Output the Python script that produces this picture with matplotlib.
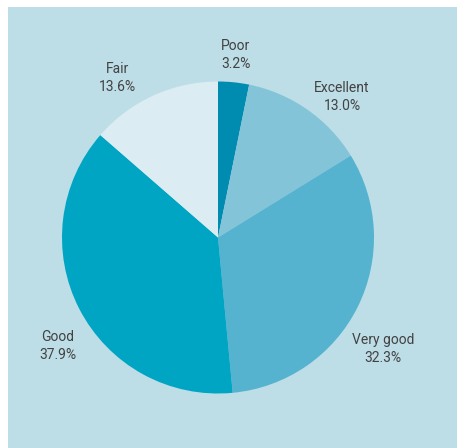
import matplotlib
matplotlib.use('Agg')
import matplotlib.pyplot as plt
from matplotlib.patches import Rectangle

# Self-rated health shares, clockwise from the top
categories = ['Poor', 'Excellent', 'Very good', 'Good', 'Fair']
shares = [3.2, 13.0, 32.3, 37.9, 13.6]
colors = ['#008bb0', '#83c4d8', '#55b3cf', '#00a5c3', '#dcecf3']

# label spots, in pie-radius units from the centre
label_pos = [(0.115, 1.17), (0.795, 0.90), (1.058, -0.715),
             (-1.026, -0.695), (-0.647, 1.022)]

plt.rcParams['font.family'] = ['Roboto', 'DejaVu Sans']

fig = plt.figure(figsize=(4.64, 4.48), dpi=100)
fig.patch.set_facecolor('white')

# light blue panel behind the pie
fig.patches.append(Rectangle((8 / 464, 0), (457 - 8) / 464, (448 - 7) / 448,
                             transform=fig.transFigure, facecolor='#bddde7',
                             edgecolor='none', zorder=-5))

ax = fig.add_axes([0, 0, 1, 1])
ax.set_facecolor('none')
ax.pie(shares, colors=colors, startangle=90, counterclock=False,
       radius=1.0, wedgeprops=dict(linewidth=0))
ax.set_xlim(-218 / 156, (464 - 218) / 156)
ax.set_ylim(-210.5 / 156, 237.5 / 156)
ax.set_aspect('equal', adjustable='datalim')
ax.axis('off')

for name, val, (x, y) in zip(categories, shares, label_pos):
    ax.text(x, y, f'{name}\n{val:.1f}%', ha='center', va='center',
            fontsize=10, color='#424242', linespacing=1.4)

fig.savefig('out.png', dpi=100, facecolor=fig.get_facecolor())
